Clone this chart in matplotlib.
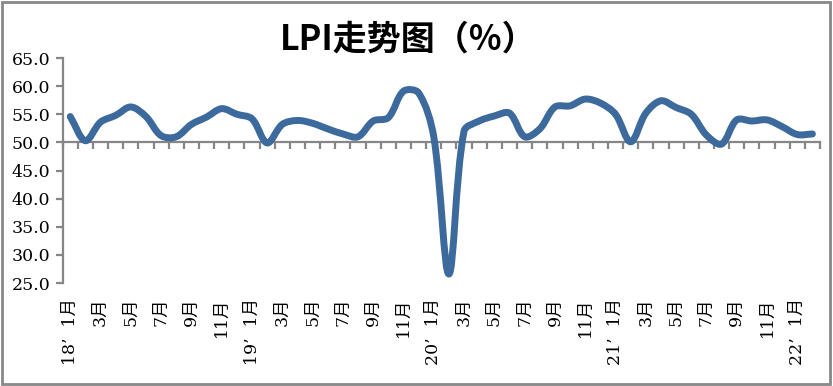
import matplotlib
matplotlib.use("Agg")
import matplotlib.pyplot as plt
from matplotlib.path import Path
from matplotlib.patches import PathPatch, Rectangle
import matplotlib.transforms as mtransforms
import numpy as np

# LPI monthly values, 2018-01 .. 2022-02
lpi = [54.6, 50.3, 53.6, 54.8, 56.3, 54.6, 51.2, 51.0, 53.2, 54.5, 56.0, 55.0,
       54.2, 49.9, 53.2, 53.9, 53.4, 52.4, 51.5, 51.0, 53.8, 54.4, 59.1, 58.8,
       51.0, 26.6, 52.0, 53.8, 54.7, 55.2, 51.0, 52.4, 56.3, 56.5, 57.7, 57.0,
       55.0, 50.1, 55.2, 57.4, 56.2, 55.0, 51.3, 49.7, 54.0, 53.8, 54.0, 52.8,
       51.4, 51.5]
years = ["18", "19", "20", "21", "22"]
month_labels = ["1月", "3月", "5月", "7月", "9月", "11月"]
yticks = [25, 30, 35, 40, 45, 50, 55, 60, 65]

line_color = "#3d6a9c"
axis_color = "#868686"
tick_font = ["DejaVu Serif", "Noto Sans CJK SC"]

fig = plt.figure(figsize=(8.33, 3.86), dpi=100)
ax = fig.add_axes([0.0752, 0.2668, 0.9092, 0.5829])

n = len(lpi)
ax.set_xlim(-0.5, n - 0.5)
ax.set_ylim(25, 65)

x = np.arange(n, dtype=float)
y = np.array(lpi, dtype=float)

# smoothed line (bezier with arms weighted by segment length on screen)
bbox = ax.get_window_extent()
sx = bbox.width / (n)
sy = bbox.height / 40.0
pts = np.column_stack([x, y])
scr = pts * [sx, sy]


def seglen(a, b):
    return np.hypot(*(scr[b] - scr[a]))


verts = [tuple(pts[0])]
codes = [Path.MOVETO]
for i in range(n - 1):
    i0, i3 = max(i - 1, 0), min(i + 2, n - 1)
    d01, d12, d23 = seglen(i0, i), seglen(i, i + 1), seglen(i + 1, i3)
    c1 = pts[i] + (pts[i + 1] - pts[i0]) * d12 / (d01 + d12) / 3
    c2 = pts[i + 1] - (pts[i3] - pts[i]) * d12 / (d12 + d23) / 3
    verts += [tuple(c1), tuple(c2), tuple(pts[i + 1])]
    codes += [Path.CURVE4] * 3
patch = PathPatch(Path(verts, codes), facecolor="none", edgecolor=line_color,
                  lw=5, capstyle="round", joinstyle="round", zorder=3)
ax.add_patch(patch)

for s in ["top", "right"]:
    ax.spines[s].set_visible(False)
ax.spines["left"].set_color(axis_color)
ax.spines["left"].set_linewidth(1.6)
ax.spines["bottom"].set_color(axis_color)
ax.spines["bottom"].set_linewidth(1.6)
ax.spines["bottom"].set_position(("data", 50))

ax.set_yticks(yticks)
ax.set_yticklabels([f"{v:.1f}" for v in yticks], family=tick_font, fontsize=12.5)
ax.tick_params(axis="y", length=5, width=1.6, color=axis_color, pad=4)

# tick marks between categories, labels at the bottom
ax.set_xticks(np.arange(-0.5, n, 1.0))
ax.set_xticklabels([])
ax.tick_params(axis="x", length=5, width=1.6, color=axis_color)

trans = mtransforms.blended_transform_factory(ax.transData, ax.transAxes)
for i in range(0, n, 2):
    m = month_labels[(i % 12) // 2]
    if i % 12 == 0:
        label = f"{years[i // 12]}’  {m}"
    else:
        label = m
    ax.text(i, -0.065, label, transform=trans, rotation=90, ha="center", va="top",
            family=tick_font, fontsize=12.5)

fig.text(0.4895, 0.90, "LPI走势图（%）", ha="center", va="center",
         family=["Noto Sans CJK SC", "DejaVu Sans"], fontsize=24.5, fontweight="bold")

fig.patches.append(Rectangle((0.002, 0.004), 0.994, 0.992, transform=fig.transFigure,
                             fill=False, edgecolor="#888888", lw=2))

fig.savefig("out.png", dpi=100)
